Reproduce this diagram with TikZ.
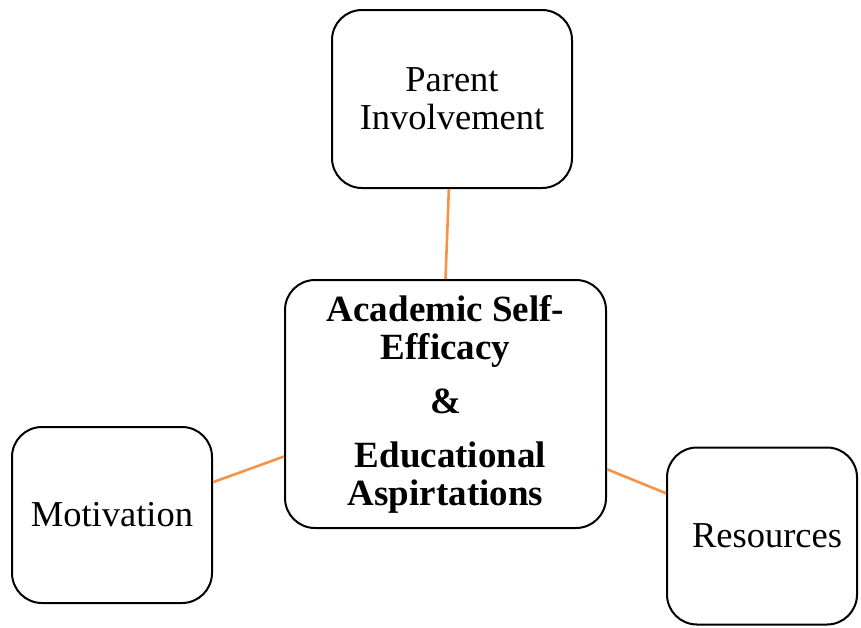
\documentclass[tikz,border=0pt]{standalone}
\usepackage{fontspec}
\setmainfont{Liberation Serif}
\usepackage{xcolor}
\definecolor{linkorange}{RGB}{247,146,70}

\begin{document}
\begin{tikzpicture}[x=1pt,y=-1pt,
	box/.style={draw=black,line width=2pt,rounded corners=30pt,align=center,inner sep=0pt,font=\fontsize{36.5}{38}\selectfont},
	link/.style={draw=linkorange,line width=2.6pt}]
	\useasboundingbox (0,0) rectangle (861,627);

	\node[box,minimum width=321pt,minimum height=248pt,font=\fontsize{37}{38}\selectfont\bfseries] (mid) at (445.5,404) {Academic Self-\\Efficacy\\[16pt]\&\\[16pt]\hspace{10pt}Educational\\Aspirtations};
	\node[box,minimum width=240pt,minimum height=178pt] (parent) at (452,99) {Parent\\Involvement};
	\node[box,minimum width=200pt,minimum height=176pt] (motiv) at (112,515) {Motivation};
	\node[box,minimum width=190pt,minimum height=177pt] (res) at (762,536) {\hspace{10pt}Resources};

	\draw[link] (parent.268) -- (mid.north);
	\draw[link] (motiv.18.8) -- (mid.198.6);
	\draw[link] (mid.338.6) -- (res.156);
\end{tikzpicture}
\end{document}
